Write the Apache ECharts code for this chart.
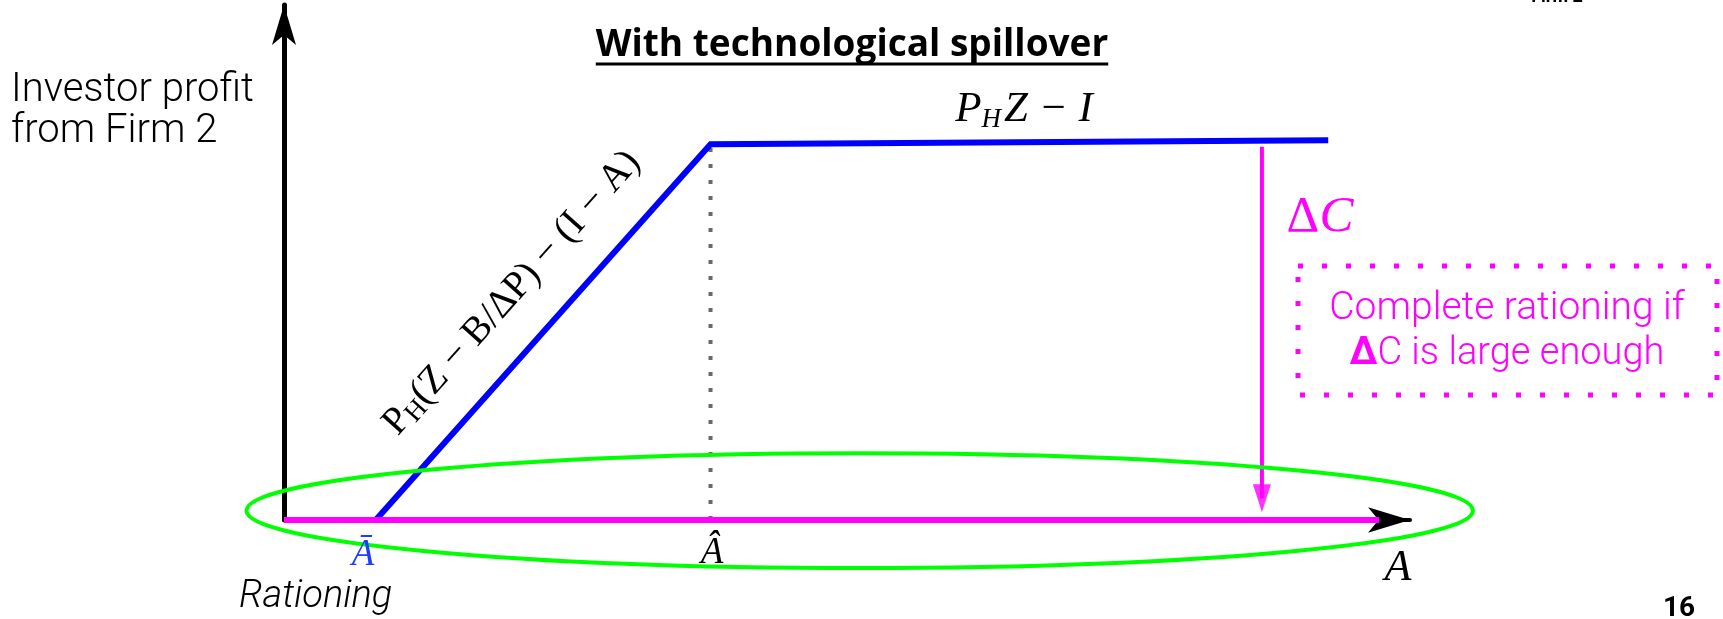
<!DOCTYPE html>
<html>
<head>
<meta charset="utf-8">
<script src="https://cdn.jsdelivr.net/npm/echarts@6/dist/echarts.min.js"></script>
<style>
  html, body { margin: 0; padding: 0; background: #ffffff; }
  #chart { width: 1723px; height: 619px; }
</style>
</head>
<body>
<div id="chart"></div>
<script>
// Investor profit from Firm 2 as a function of the firm's own assets A (arbitrary units).
// Profit curve: zero below Ā, rising until Â, then flat at P_H Z − I.
const profitA = [8.3, 38.6, 94.5];      // Ā, Â, right end of the flat segment
const profitY = [0, 75.9, 76.7];        // investor profit at those points

// Complete rationing: profit stays at zero over the whole range of A.
const rationingA = [0, 99.1];
const rationingY = [0, 0];

// ΔC drop: x position, start (flat profit level) and arrow-head centre.
const deltaC = [88.5, 75.4, 4.4];

// Ellipse around the rationing line: centre x, centre y, radius x, radius y (data units).
const rationingRing = [52.1, 1.9, 55.5, 11.6];

const BLUE = '#0000ff';
const MAGENTA = '#ff00ff';
const GREEN = '#00ff00';
const SERIF = '"Liberation Serif", "DejaVu Serif", serif';
const SANS = 'Roboto, "Noto Sans", sans-serif';
const TITLE_FONT = 'bold 37px "Open Sans", Roboto, sans-serif';
const TITLE = 'With technological spillover';

const chart = echarts.init(document.getElementById('chart'), null, { renderer: 'canvas' });

// width of the title, used for its underline
const titleWidth = new echarts.graphic.Text({ style: { text: TITLE, font: TITLE_FONT } })
  .getBoundingRect().width;
const titleX = 852;

const option = {
  animation: false,
  backgroundColor: '#ffffff',
  grid: { left: 284, right: 313, top: 5, bottom: 99, containLabel: false },
  xAxis: {
    type: 'value', min: 0, max: 101.9,
    axisLine: { show: true, onZero: false, symbol: ['none', 'arrow'], symbolSize: [19, 42],
                lineStyle: { color: '#000', width: 4 } },
    axisTick: { show: false }, axisLabel: { show: false }, splitLine: { show: false }
  },
  yAxis: {
    type: 'value', min: 0, max: 104,
    axisLine: { show: true, onZero: false, symbol: ['none', 'arrow'], symbolSize: [18, 40],
                lineStyle: { color: '#000', width: 5 } },
    axisTick: { show: false }, axisLabel: { show: false }, splitLine: { show: false }
  },
  series: [
    {
      name: 'Â marker', type: 'line', silent: true, symbol: 'none', z: 2,
      data: [[profitA[1], 0], [profitA[1], profitY[1]]],
      lineStyle: { color: '#6a6a6a', width: 4, type: [4, 12], cap: 'butt' }
    },
    {
      name: 'Profit', type: 'line', silent: true, symbol: 'none', z: 3,
      data: profitA.map((a, i) => [a, profitY[i]]),
      lineStyle: { color: BLUE, width: 6, join: 'miter' }
    },
    {
      name: 'Rationing', type: 'line', silent: true, symbol: 'none', z: 4, clip: false,
      data: rationingA.map((a, i) => [a, rationingY[i]]),
      lineStyle: { color: MAGENTA, width: 6, cap: 'butt' }
    },
    {
      name: 'ΔC', type: 'line', silent: true, symbol: 'none', z: 4,
      data: [[deltaC[0], deltaC[1]], [deltaC[0], deltaC[2]]],
      lineStyle: { color: MAGENTA, width: 4 }
    },
    {
      name: 'ΔC head', type: 'scatter', silent: true, z: 5,
      data: [[deltaC[0], deltaC[2]]],
      symbol: 'triangle', symbolSize: [18, 28], symbolRotate: 180,
      itemStyle: { color: MAGENTA }
    },
    {
      name: 'Rationing zone', type: 'custom', silent: true, z: 10, clip: false,
      data: [rationingRing],
      renderItem: function (params, api) {
        const c = api.coord([api.value(0), api.value(1)]);
        const s = api.size([api.value(2), api.value(3)]);
        return {
          type: 'ellipse',
          shape: { cx: c[0], cy: c[1], rx: s[0], ry: s[1] },
          style: { fill: null, stroke: GREEN, lineWidth: 4 }
        };
      }
    }
  ],
  graphic: [
    // title
    { type: 'text', x: titleX, y: 45, z: 20,
      style: { text: TITLE, font: TITLE_FONT, fill: '#000',
               textAlign: 'center', textVerticalAlign: 'middle' } },
    { type: 'line', z: 20, shape: { x1: titleX - titleWidth / 2, y1: 64, x2: titleX + titleWidth / 2, y2: 64 },
      style: { stroke: '#000', lineWidth: 3 } },
    // y axis title
    { type: 'text', x: 11, y: 111, z: 20,
      style: { text: 'Investor profit\nfrom Firm 2', font: '300 40px ' + SANS, fill: '#000',
               lineHeight: 41, textAlign: 'left', textVerticalAlign: 'middle' } },
    // flat segment label
    { type: 'text', x: 1024, y: 110, z: 20,
      style: {
        text: '{i|P}{s|H}{i|Z − I}', textAlign: 'center', textVerticalAlign: 'middle',
        rich: {
          i: { font: 'italic 43px ' + SERIF, fill: '#000', lineHeight: 46 },
          s: { font: 'italic 27px ' + SERIF, fill: '#000', lineHeight: 25, verticalAlign: 'bottom', padding: [0, 3, 0, 0] }
        }
      } },
    // sloped segment label
    { type: 'text', x: 512, y: 293, z: 20, rotation: 0.843,
      style: {
        text: '{r|P}{s|H}{r|(Z − B/ΔP) − (I − A)}', textAlign: 'center', textVerticalAlign: 'middle',
        rich: {
          r: { font: '39px ' + SERIF, fill: '#000', lineHeight: 42 },
          s: { font: '27px ' + SERIF, fill: '#000', lineHeight: 27, verticalAlign: 'bottom' }
        }
      } },
    // ΔC label
    { type: 'text', x: 1320, y: 218, z: 20,
      style: {
        text: '{d|Δ}{c|C}', textAlign: 'center', textVerticalAlign: 'middle',
        rich: {
          d: { font: '51px ' + SERIF, fill: MAGENTA },
          c: { font: 'italic 51px ' + SERIF, fill: MAGENTA }
        }
      } },
    // dotted box with note
    { type: 'rect', z: 20, shape: { x: 1298, y: 266, width: 419, height: 129 },
      style: { fill: null, stroke: MAGENTA, lineWidth: 5, lineDash: [5, 19] } },
    { type: 'text', x: 1507, y: 309, z: 20,
      style: { text: 'Complete rationing if', font: '300 39px ' + SANS, fill: MAGENTA,
               textAlign: 'center', textVerticalAlign: 'middle' } },
    { type: 'text', x: 1507, y: 354, z: 20,
      style: {
        text: '{b|Δ}{n|C is large enough}', textAlign: 'center', textVerticalAlign: 'middle',
        rich: {
          b: { font: 'bold 38px ' + SANS, fill: MAGENTA },
          n: { font: '300 38px ' + SANS, fill: MAGENTA }
        }
      } },
    // x axis markers
    { type: 'text', x: 363, y: 555, z: 20,
      style: { text: 'Ā', font: 'italic 37px ' + SERIF, fill: '#1f3cff',
               textAlign: 'center', textVerticalAlign: 'middle' } },
    { type: 'text', x: 712, y: 553, z: 20,
      style: { text: 'Â', font: 'italic 37px ' + SERIF, fill: '#000',
               textAlign: 'center', textVerticalAlign: 'middle' } },
    { type: 'text', x: 1398, y: 568, z: 20,
      style: { text: 'A', font: 'italic 44px ' + SERIF, fill: '#000',
               textAlign: 'center', textVerticalAlign: 'middle' } },
    { type: 'text', x: 239, y: 597, z: 20,
      style: { text: 'Rationing', font: 'italic 300 38px ' + SANS, fill: '#000',
               textAlign: 'left', textVerticalAlign: 'middle' } },
    // page number and header remnant
    { type: 'text', x: 1679, y: 609, z: 20,
      style: { text: '16', font: 'bold 28px ' + SANS, fill: '#000',
               textAlign: 'center', textVerticalAlign: 'middle' } },
    { type: 'text', x: 1557, y: -3, z: 20,
      style: { text: 'Firm 2', font: 'bold 18px ' + SANS, fill: '#000',
               textAlign: 'center', textVerticalAlign: 'middle' } }
  ]
};

chart.setOption(option);
</script>
</body>
</html>
